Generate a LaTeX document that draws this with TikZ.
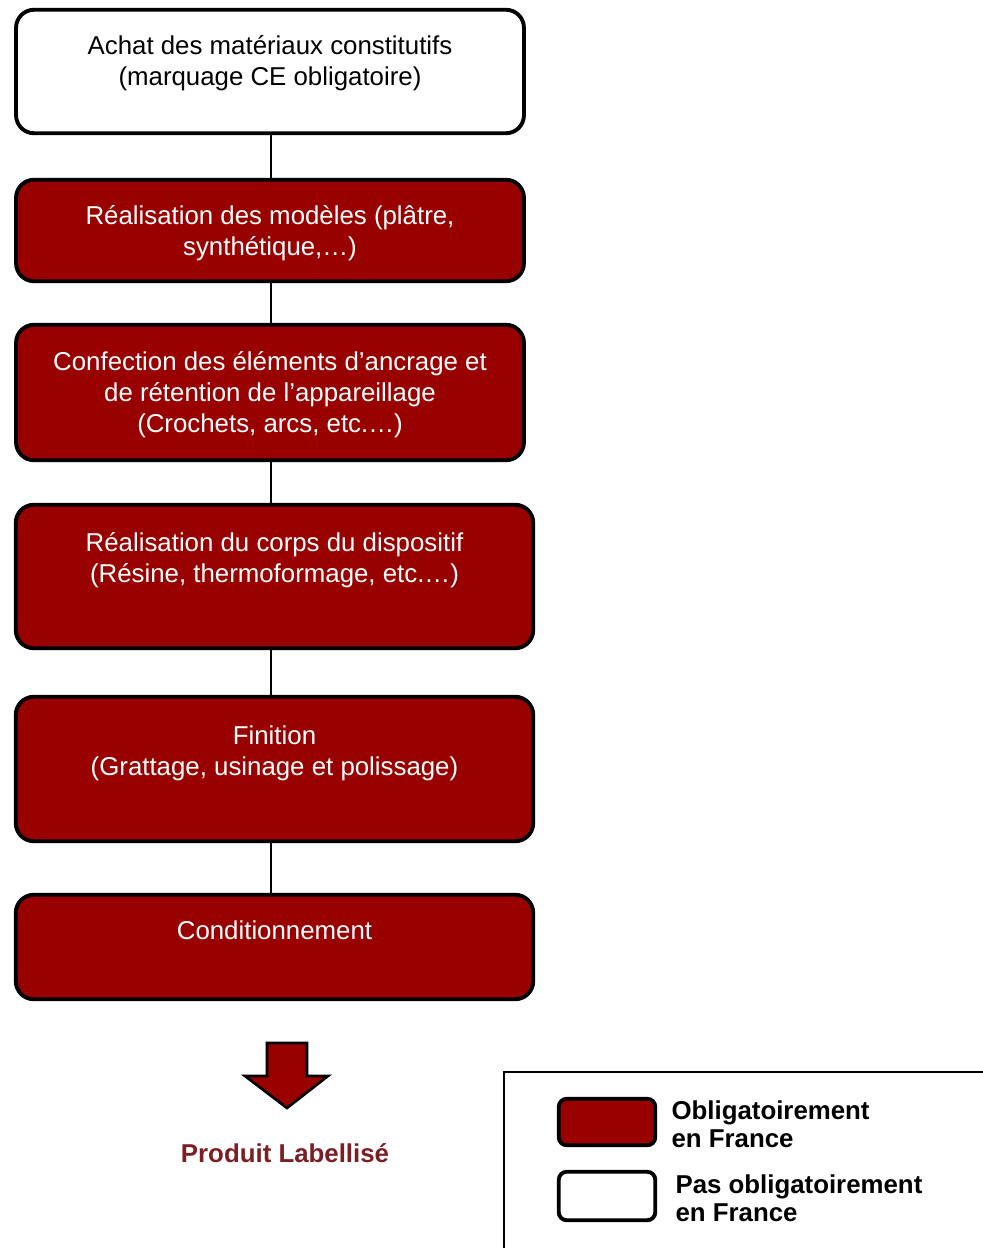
\documentclass[tikz,border=0pt]{standalone}
\usepackage{fontspec}
\setmainfont{Liberation Sans}
\usetikzlibrary{positioning}

\definecolor{labelred}{RGB}{153,0,0}
\definecolor{darkred}{RGB}{125,30,35}

\tikzset{
  stepbox/.style={draw, line width=2.2pt, rounded corners=0.36cm, inner sep=0pt},
  redbox/.style={stepbox, fill=labelred},
  whitebox/.style={stepbox, fill=white},
  boxtext/.style={inner sep=0pt, align=center, font=\fontsize{14.7}{17.5}\selectfont},
  legtext/.style={inner sep=0pt, align=left, font=\fontsize{14.7}{15.9}\selectfont\bfseries},
  link/.style={line width=1pt},
}

\begin{document}
\begin{tikzpicture}[x=0.02cm, y=-0.02cm]
        \path[use as bounding box] (0,0) rectangle (983,1248);
        \clip (0,0) rectangle (983,1248);
        \coordinate (spine) at (271,0);

        % steps
        \node[whitebox, minimum width=10.16cm, minimum height=2.47cm] (achat)   at (270,71.5)  {};
        \node[redbox,   minimum width=10.16cm, minimum height=2.03cm] (modeles) at (270,230.5) {};
        \node[redbox,   minimum width=10.16cm, minimum height=2.71cm] (ancrage) at (270,392.5) {};
        \node[redbox,   minimum width=10.35cm, minimum height=2.87cm] (corps)   at (274.5,576.5) {};
        \node[redbox,   minimum width=10.35cm, minimum height=2.89cm] (finition) at (274.5,769) {};
        \node[redbox,   minimum width=10.35cm, minimum height=2.09cm] (condit)  at (274.5,947) {};

        \node[boxtext, below=0.55cm of achat.north] (achat-t)
            {Achat des matériaux constitutifs\\(marquage CE obligatoire)};
        \node[boxtext, text=white, below=0.55cm of modeles.north] (modeles-t)
            {Réalisation des modèles (plâtre,\\synthétique,…)};
        \node[boxtext, text=white, below=0.57cm of ancrage.north] (ancrage-t)
            {Confection des éléments d’ancrage et\\de rétention de l’appareillage\\(Crochets, arcs, etc.…)};
        \node[boxtext, text=white, below=0.59cm of corps.north] (corps-t)
            {Réalisation du corps du dispositif\\(Résine, thermoformage, etc.…)};
        \node[boxtext, text=white, below=0.61cm of finition.north] (finition-t)
            {Finition\\(Grattage, usinage et polissage)};
        \node[boxtext, text=white, below=0.55cm of condit.north] (condit-t)
            {Conditionnement};

        \path[link] (spine |- achat.south)    edge (spine |- modeles.north);
        \path[link] (spine |- modeles.south)  edge (spine |- ancrage.north);
        \path[link] (spine |- ancrage.south)  edge (spine |- corps.north);
        \path[link] (spine |- corps.south)    edge (spine |- finition.north);
        \path[link] (spine |- finition.south) edge (spine |- condit.north);

        % result
        \draw[fill=labelred, line width=1.5pt, line join=miter]
            (267,1043) -- (307,1043) -- (307,1076) -- (328,1076) -- (287,1108)
            -- (245,1076) -- (267,1076) -- cycle;
        \node[inner sep=0pt, text=darkred, font=\fontsize{14.7}{17.5}\selectfont\bfseries] (produit) at (285,1153) {Produit Labellisé};

        % legend
        \draw[line width=0.8pt] (504,1072) rectangle (1010,1270);
        \node[redbox,   rounded corners=0.16cm, minimum width=1.93cm, minimum height=0.93cm] (oblig)    at (607,1122) {};
        \node[whitebox, rounded corners=0.16cm, minimum width=1.93cm, minimum height=0.97cm] (pasoblig) at (607,1196) {};
        \node[legtext, right=0.28cm of oblig, yshift=-0.04cm] (oblig-t) {Obligatoirement\\en France};
        \node[legtext, right=0.36cm of pasoblig, yshift=-0.05cm] (pasoblig-t) {Pas obligatoirement\\en France};
    \end{tikzpicture}
\end{document}
